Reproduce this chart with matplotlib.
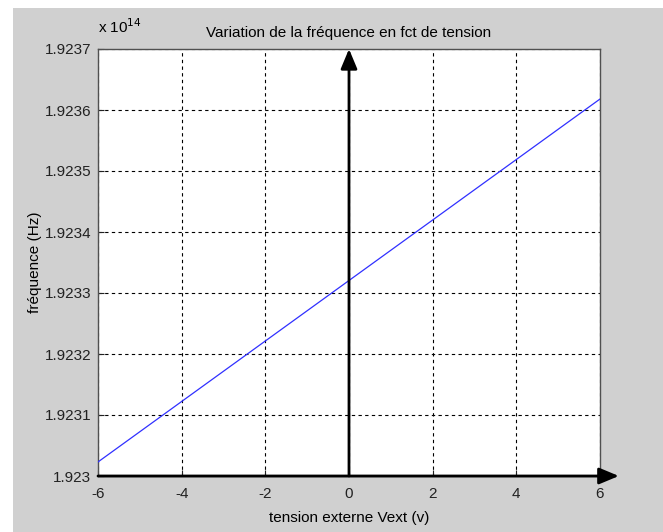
import matplotlib.pyplot as plt
from matplotlib.patches import Rectangle
from matplotlib.ticker import FuncFormatter

plt.rcParams['font.family'] = ['Liberation Sans', 'DejaVu Sans']

# data
tension = [-6, 6]
frequence = [1.923023e14, 1.923618e14]

x_ticks = [-6, -4, -2, 0, 2, 4, 6]
y_ticks = [1.9230e14, 1.9231e14, 1.9232e14, 1.9233e14, 1.9234e14, 1.9235e14, 1.9236e14, 1.9237e14]

fs = 11

fig = plt.figure(figsize=(6.63, 5.32), dpi=100, facecolor='white')
# grey figure panel (matlab style)
fig.patches.append(Rectangle((13 / 663, 0), 650 / 663, 524 / 532, transform=fig.transFigure,
                             facecolor='#d0d0d0', edgecolor='none', zorder=-10))

ax = fig.add_axes([98 / 663, 56 / 532, 502 / 663, 427 / 532])
ax.plot(tension, frequence, color='#3030ff', lw=0.9, zorder=3)

ax.set_xlim(-6, 6)
ax.set_ylim(y_ticks[0], y_ticks[-1])
ax.set_xticks(x_ticks)
ax.set_yticks(y_ticks)
ax.xaxis.set_major_formatter(FuncFormatter(lambda v, p: f'{v:g}'))
ax.yaxis.set_major_formatter(FuncFormatter(lambda v, p: f'{v / 1e14:.4f}'.rstrip('0')))
ax.tick_params(direction='in', length=4, labelsize=fs, colors='#222222')
ax.tick_params(axis='x', pad=8)
ax.tick_params(axis='y', pad=5)
ax.grid(True, color='black', linestyle=(0, (3, 3)), linewidth=0.8)
for s in ax.spines.values():
    s.set_color('#505050')
    s.set_linewidth(1.0)

# arrows for the axes
ymin, ymax = y_ticks[0], y_ticks[-1]
ax.annotate('', xy=(0, ymax), xytext=(0, ymin),
            arrowprops=dict(arrowstyle='-|>,head_length=1.2,head_width=0.5', lw=2, color='black',
                            shrinkA=0, shrinkB=0), annotation_clip=False, zorder=5)
ax.annotate('', xy=(6.45, ymin), xytext=(-6, ymin),
            arrowprops=dict(arrowstyle='-|>,head_length=1.2,head_width=0.5', lw=2, color='black',
                            shrinkA=0, shrinkB=0), annotation_clip=False, zorder=5)

ax.set_title('Variation de la fréquence en fct de tension', fontsize=fs, pad=9)
ax.set_xlabel('tension externe Vext (v)', fontsize=fs, labelpad=7)
ax.set_ylabel('fréquence (Hz)', fontsize=fs, labelpad=2)
fig.text(98 / 663, 1 - 27 / 532, r'x 10$^{14}$', fontsize=fs, va='center', ha='left')

fig.savefig('out.png', dpi=100, facecolor=fig.get_facecolor())
